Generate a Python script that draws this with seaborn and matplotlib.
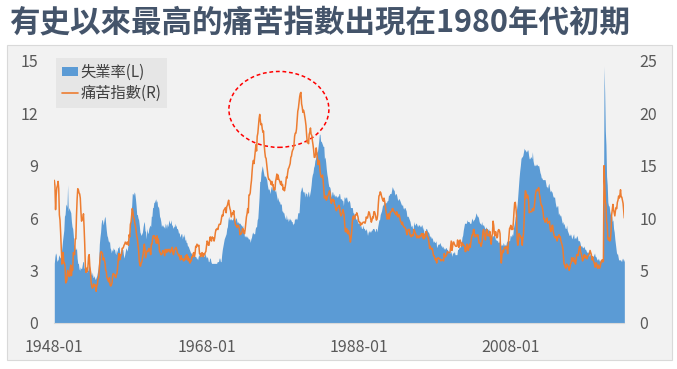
import pandas as pd
import seaborn as sns
import matplotlib.pyplot as plt
from matplotlib.patches import Ellipse, Rectangle, Patch
from matplotlib.lines import Line2D

# 美國失業率 (%)，1948-01 ~ 2022-12，每列一年
unemployment = [
    3.4, 3.8, 4.0, 3.9, 3.5, 3.6, 3.6, 3.9, 3.8, 3.7, 3.8, 4.0,
    4.3, 4.7, 5.0, 5.3, 6.1, 6.2, 6.7, 6.8, 6.6, 7.9, 6.4, 6.6,
    6.5, 6.4, 6.3, 5.8, 5.5, 5.4, 5.0, 4.5, 4.4, 4.2, 4.2, 4.3,
    3.7, 3.4, 3.4, 3.1, 3.0, 3.2, 3.1, 3.1, 3.3, 3.5, 3.5, 3.1,
    3.2, 3.1, 2.9, 2.9, 3.0, 3.0, 3.2, 3.4, 3.1, 3.0, 2.8, 2.7,
    2.9, 2.6, 2.6, 2.7, 2.5, 2.5, 2.6, 2.7, 2.9, 3.1, 3.5, 4.5,
    4.9, 5.2, 5.7, 5.9, 5.9, 5.6, 5.8, 6.0, 6.1, 5.7, 5.3, 5.0,
    4.9, 4.7, 4.6, 4.7, 4.3, 4.2, 4.0, 4.2, 4.1, 4.3, 4.2, 4.2,
    4.0, 3.9, 4.2, 4.0, 4.3, 4.3, 4.4, 4.1, 3.9, 3.9, 4.3, 4.2,
    4.2, 3.9, 3.7, 3.9, 4.1, 4.3, 4.2, 4.1, 4.4, 4.5, 5.1, 5.2,
    5.8, 6.4, 6.7, 7.4, 7.4, 7.3, 7.5, 7.4, 7.1, 6.7, 6.2, 6.2,
    6.0, 5.9, 5.6, 5.2, 5.1, 5.0, 5.1, 5.2, 5.5, 5.7, 5.8, 5.3,
    5.2, 4.8, 5.4, 5.2, 5.1, 5.4, 5.5, 5.6, 5.5, 6.1, 6.1, 6.6,
    6.6, 6.9, 6.9, 7.0, 7.1, 6.9, 7.0, 6.6, 6.7, 6.5, 6.1, 6.0,
    5.8, 5.5, 5.6, 5.6, 5.5, 5.5, 5.4, 5.7, 5.6, 5.4, 5.7, 5.5,
    5.7, 5.9, 5.7, 5.7, 5.9, 5.6, 5.6, 5.4, 5.5, 5.5, 5.7, 5.5,
    5.6, 5.4, 5.4, 5.3, 5.1, 5.2, 4.9, 5.0, 5.1, 5.1, 4.8, 5.0,
    4.9, 5.1, 4.7, 4.8, 4.6, 4.6, 4.4, 4.4, 4.3, 4.2, 4.1, 4.0,
    4.0, 3.8, 3.8, 3.8, 3.9, 3.8, 3.8, 3.8, 3.7, 3.7, 3.6, 3.8,
    3.9, 3.8, 3.8, 3.8, 3.8, 3.9, 3.8, 3.8, 3.8, 4.0, 3.9, 3.8,
    3.7, 3.8, 3.7, 3.5, 3.5, 3.7, 3.7, 3.5, 3.4, 3.4, 3.4, 3.4,
    3.4, 3.4, 3.4, 3.4, 3.4, 3.5, 3.5, 3.5, 3.7, 3.7, 3.5, 3.5,
    3.9, 4.2, 4.4, 4.6, 4.8, 4.9, 5.0, 5.1, 5.4, 5.5, 5.9, 6.1,
    5.9, 5.9, 6.0, 5.9, 5.9, 5.9, 6.0, 6.1, 6.0, 5.8, 6.0, 6.0,
    5.8, 5.7, 5.8, 5.7, 5.7, 5.7, 5.6, 5.6, 5.5, 5.6, 5.3, 5.2,
    4.9, 5.0, 4.9, 5.0, 4.9, 4.9, 4.8, 4.8, 4.8, 4.6, 4.8, 4.9,
    5.1, 5.2, 5.1, 5.1, 5.1, 5.4, 5.5, 5.5, 5.9, 6.0, 6.6, 7.2,
    8.1, 8.1, 8.6, 8.8, 9.0, 8.8, 8.6, 8.4, 8.4, 8.4, 8.3, 8.2,
    7.9, 7.7, 7.6, 7.7, 7.4, 7.6, 7.8, 7.8, 7.6, 7.7, 7.8, 7.8,
    7.5, 7.6, 7.4, 7.2, 7.0, 7.2, 6.9, 7.0, 6.8, 6.8, 6.8, 6.4,
    6.4, 6.3, 6.3, 6.1, 6.0, 5.9, 6.2, 5.9, 6.0, 5.8, 5.9, 6.0,
    5.9, 5.9, 5.8, 5.8, 5.6, 5.7, 5.7, 6.0, 5.9, 6.0, 5.9, 6.0,
    6.3, 6.3, 6.3, 6.9, 7.5, 7.6, 7.8, 7.7, 7.5, 7.5, 7.5, 7.2,
    7.5, 7.4, 7.4, 7.2, 7.5, 7.5, 7.2, 7.4, 7.6, 7.9, 8.3, 8.5,
    8.6, 8.9, 9.0, 9.3, 9.4, 9.6, 9.8, 9.8, 10.1, 10.4, 10.8, 10.8,
    10.4, 10.4, 10.3, 10.2, 10.1, 10.1, 9.4, 9.5, 9.2, 8.8, 8.5, 8.3,
    8.0, 7.8, 7.8, 7.7, 7.4, 7.2, 7.5, 7.5, 7.3, 7.4, 7.2, 7.3,
    7.3, 7.2, 7.2, 7.3, 7.2, 7.4, 7.4, 7.1, 7.1, 7.1, 7.0, 7.0,
    6.7, 7.2, 7.2, 7.1, 7.2, 7.2, 7.0, 6.9, 7.0, 7.0, 6.9, 6.6,
    6.6, 6.6, 6.6, 6.3, 6.3, 6.2, 6.1, 6.0, 5.9, 6.0, 5.8, 5.7,
    5.7, 5.7, 5.7, 5.4, 5.6, 5.4, 5.4, 5.6, 5.4, 5.4, 5.3, 5.3,
    5.4, 5.2, 5.0, 5.2, 5.2, 5.3, 5.2, 5.2, 5.3, 5.3, 5.4, 5.4,
    5.4, 5.3, 5.2, 5.4, 5.4, 5.2, 5.5, 5.7, 5.9, 5.9, 6.2, 6.3,
    6.4, 6.6, 6.8, 6.7, 6.9, 6.9, 6.8, 6.9, 6.9, 7.0, 7.0, 7.3,
    7.3, 7.4, 7.4, 7.4, 7.6, 7.8, 7.7, 7.6, 7.6, 7.3, 7.4, 7.4,
    7.3, 7.1, 7.0, 7.1, 7.1, 7.0, 6.9, 6.8, 6.7, 6.8, 6.6, 6.5,
    6.6, 6.6, 6.5, 6.4, 6.1, 6.1, 6.1, 6.0, 5.9, 5.8, 5.6, 5.5,
    5.6, 5.4, 5.4, 5.8, 5.6, 5.6, 5.7, 5.7, 5.6, 5.5, 5.6, 5.6,
    5.6, 5.5, 5.5, 5.6, 5.6, 5.3, 5.5, 5.1, 5.2, 5.2, 5.4, 5.4,
    5.3, 5.2, 5.2, 5.1, 4.9, 5.0, 4.9, 4.8, 4.9, 4.7, 4.6, 4.7,
    4.6, 4.6, 4.7, 4.3, 4.4, 4.5, 4.5, 4.5, 4.6, 4.5, 4.4, 4.4,
    4.3, 4.4, 4.2, 4.3, 4.2, 4.3, 4.3, 4.2, 4.2, 4.1, 4.1, 4.0,
    4.0, 4.1, 4.0, 3.8, 4.0, 4.0, 4.0, 4.1, 3.9, 3.9, 3.9, 3.9,
    4.2, 4.2, 4.3, 4.4, 4.3, 4.5, 4.6, 4.9, 5.0, 5.3, 5.5, 5.7,
    5.7, 5.7, 5.7, 5.9, 5.8, 5.8, 5.8, 5.7, 5.7, 5.7, 5.9, 6.0,
    5.8, 5.9, 5.9, 6.0, 6.1, 6.3, 6.2, 6.1, 6.1, 6.0, 5.8, 5.7,
    5.7, 5.6, 5.8, 5.6, 5.6, 5.6, 5.5, 5.4, 5.4, 5.5, 5.4, 5.4,
    5.3, 5.4, 5.2, 5.2, 5.1, 5.0, 5.0, 4.9, 5.0, 5.0, 5.0, 4.9,
    4.7, 4.8, 4.7, 4.7, 4.6, 4.6, 4.7, 4.7, 4.5, 4.4, 4.5, 4.4,
    4.6, 4.5, 4.4, 4.5, 4.4, 4.6, 4.7, 4.6, 4.7, 4.7, 4.7, 5.0,
    5.0, 4.9, 5.1, 5.0, 5.4, 5.6, 5.8, 6.1, 6.1, 6.5, 6.8, 7.3,
    7.8, 8.3, 8.7, 9.0, 9.4, 9.5, 9.5, 9.6, 9.8, 10.0, 9.9, 9.9,
    9.8, 9.8, 9.9, 9.9, 9.6, 9.4, 9.4, 9.5, 9.5, 9.4, 9.8, 9.3,
    9.1, 9.0, 9.0, 9.1, 9.0, 9.1, 9.0, 9.0, 9.0, 8.8, 8.6, 8.5,
    8.3, 8.3, 8.2, 8.2, 8.2, 8.2, 8.2, 8.0, 7.8, 7.8, 7.7, 7.9,
    8.0, 7.7, 7.5, 7.6, 7.5, 7.5, 7.3, 7.2, 7.2, 7.2, 6.9, 6.7,
    6.6, 6.7, 6.7, 6.2, 6.3, 6.1, 6.2, 6.1, 5.9, 5.7, 5.8, 5.6,
    5.7, 5.5, 5.4, 5.4, 5.6, 5.3, 5.2, 5.1, 5.0, 5.0, 5.1, 5.0,
    4.8, 4.9, 5.0, 5.1, 4.8, 4.9, 4.8, 4.9, 5.0, 4.9, 4.7, 4.7,
    4.7, 4.6, 4.4, 4.4, 4.4, 4.3, 4.3, 4.4, 4.3, 4.2, 4.2, 4.1,
    4.0, 4.1, 4.0, 4.0, 3.8, 4.0, 3.8, 3.8, 3.7, 3.8, 3.8, 3.9,
    4.0, 3.8, 3.8, 3.7, 3.6, 3.6, 3.7, 3.6, 3.5, 3.6, 3.6, 3.6,
    3.5, 3.5, 4.4, 14.7, 13.2, 11.0, 10.2, 8.4, 7.9, 6.9, 6.7, 6.7,
    6.4, 6.2, 6.1, 6.1, 5.8, 5.9, 5.4, 5.2, 4.8, 4.5, 4.2, 3.9,
    4.0, 3.8, 3.6, 3.6, 3.6, 3.6, 3.5, 3.7, 3.5, 3.7, 3.6, 3.5,
]

# CPI 年增率 (%)，同期間；痛苦指數 = 失業率 + CPI 年增率
cpi_yoy = [
    10.2, 9.3, 6.8, 8.3, 9.4, 9.5, 9.9, 8.9, 6.5, 6.1, 4.8, 3.0,
    1.3, 1.3, 1.7, 0.4, -0.4, -0.8, -2.9, -2.9, -2.5, -2.9, -1.7, -2.1,
    -2.1, -1.3, -0.8, -1.3, -0.4, -0.4, 1.7, 2.1, 2.1, 3.8, 3.8, 5.9,
    8.1, 9.4, 9.3, 9.3, 9.3, 8.7, 7.5, 6.6, 6.6, 6.4, 6.9, 6.0,
    4.3, 2.3, 1.9, 2.3, 1.9, 2.3, 3.1, 3.1, 2.3, 1.9, 1.1, 0.8,
    0.4, 0.8, 1.1, 0.8, 1.1, 1.1, 0.4, 0.8, 0.8, 1.1, 0.8, 0.7,
    1.1, 1.5, 1.1, 0.8, 0.7, 0.4, 0.4, 0.0, -0.4, -0.7, -0.4, -0.7,
    -0.7, -0.7, -0.7, -0.4, -0.7, -0.7, -0.4, -0.4, 0.4, 0.4, 0.4, 0.4,
    0.4, 0.4, 0.4, 0.7, 1.1, 1.8, 2.2, 1.9, 2.2, 2.6, 2.2, 2.9,
    2.9, 3.3, 3.7, 3.6, 3.6, 3.3, 3.3, 3.6, 3.3, 2.9, 3.3, 3.0,
    3.6, 3.2, 3.6, 3.5, 3.2, 2.8, 2.4, 2.1, 2.1, 2.1, 2.1, 1.8,
    1.4, 1.0, 0.3, 0.3, 0.3, 0.7, 0.7, 1.0, 1.0, 1.4, 1.7, 1.7,
    1.0, 1.7, 1.4, 1.7, 1.7, 1.7, 1.4, 1.4, 1.0, 1.4, 1.4, 1.4,
    1.7, 1.4, 1.4, 1.0, 1.0, 0.7, 1.3, 1.0, 1.3, 1.0, 0.7, 0.7,
    0.7, 1.0, 1.0, 1.3, 1.3, 1.3, 1.0, 1.3, 1.3, 1.3, 1.3, 1.3,
    1.3, 1.0, 1.3, 1.0, 1.0, 1.3, 1.6, 1.3, 1.0, 1.3, 1.3, 1.6,
    1.6, 1.6, 1.3, 1.3, 1.3, 1.3, 1.3, 1.0, 1.3, 1.0, 1.3, 1.0,
    1.0, 1.0, 1.3, 1.6, 1.6, 1.9, 1.6, 1.9, 1.6, 1.9, 1.6, 1.9,
    1.9, 2.5, 2.5, 2.8, 2.8, 2.5, 2.8, 3.5, 3.5, 3.8, 3.8, 3.5,
    3.5, 2.8, 2.8, 2.5, 2.8, 2.8, 2.8, 2.5, 2.8, 2.5, 2.8, 3.0,
    3.6, 4.0, 4.0, 3.9, 3.9, 4.2, 4.5, 4.4, 4.4, 4.8, 4.7, 4.7,
    4.4, 4.7, 5.2, 5.5, 5.5, 5.5, 5.4, 5.7, 5.7, 5.7, 5.9, 6.2,
    6.2, 6.1, 5.8, 6.1, 6.0, 6.0, 6.0, 5.4, 5.7, 5.7, 5.6, 5.6,
    5.3, 5.0, 4.7, 4.2, 4.4, 4.6, 4.4, 4.6, 4.1, 3.8, 3.3, 3.3,
    3.3, 3.5, 3.5, 3.5, 3.2, 2.7, 2.9, 2.9, 3.2, 3.4, 3.6, 3.4,
    3.6, 3.9, 4.6, 5.1, 5.5, 6.0, 5.7, 7.4, 7.4, 7.8, 8.3, 8.7,
    9.4, 10.0, 10.4, 10.1, 10.7, 10.9, 11.5, 10.9, 11.9, 12.1, 12.2, 12.3,
    11.8, 11.2, 10.3, 10.2, 9.5, 9.4, 9.7, 8.6, 7.9, 7.4, 7.4, 6.9,
    6.7, 6.3, 6.1, 6.0, 6.2, 5.9, 5.4, 5.7, 5.5, 5.5, 4.9, 4.9,
    5.2, 5.9, 6.4, 7.0, 6.7, 6.9, 6.8, 6.6, 6.6, 6.4, 6.7, 6.7,
    6.8, 6.4, 6.6, 6.5, 6.9, 7.4, 7.7, 7.9, 8.3, 8.9, 8.9, 9.0,
    9.3, 9.9, 10.1, 10.5, 10.9, 10.9, 11.3, 11.8, 12.2, 12.1, 12.6, 13.3,
    13.9, 14.2, 14.8, 14.7, 14.4, 14.4, 13.1, 12.9, 12.6, 12.8, 12.6, 12.5,
    11.8, 11.4, 10.5, 10.0, 9.8, 9.6, 10.8, 10.8, 11.0, 10.1, 9.6, 8.9,
    8.4, 7.6, 6.8, 6.5, 6.7, 7.1, 6.4, 5.9, 5.0, 5.1, 4.6, 3.8,
    3.7, 3.5, 3.6, 3.9, 3.5, 2.6, 2.5, 2.6, 2.9, 2.9, 3.3, 3.8,
    4.2, 4.6, 4.8, 4.6, 4.2, 4.2, 4.2, 4.3, 4.3, 4.3, 4.1, 3.9,
    3.5, 3.5, 3.7, 3.7, 3.8, 3.8, 3.6, 3.3, 3.1, 3.2, 3.5, 3.8,
    3.9, 3.1, 2.2, 1.6, 1.5, 1.8, 1.6, 1.6, 1.8, 1.5, 1.3, 1.1,
    1.5, 2.1, 3.0, 3.8, 3.9, 3.7, 3.9, 4.3, 4.4, 4.5, 4.5, 4.4,
    4.0, 3.9, 3.9, 3.9, 3.9, 4.0, 4.1, 4.0, 4.2, 4.2, 4.2, 4.4,
    4.7, 4.8, 5.0, 5.1, 5.4, 5.2, 5.0, 4.7, 4.3, 4.5, 4.7, 4.6,
    5.2, 5.3, 5.2, 4.7, 4.4, 4.7, 4.8, 5.6, 6.2, 6.3, 6.3, 6.1,
    5.7, 5.3, 4.9, 4.9, 5.0, 4.7, 4.4, 3.8, 3.4, 2.9, 3.0, 3.1,
    2.6, 2.8, 3.2, 3.2, 3.0, 3.1, 3.2, 3.1, 3.0, 3.2, 3.0, 2.9,
    3.3, 3.2, 3.1, 3.2, 3.2, 3.0, 2.8, 2.8, 2.7, 2.8, 2.7, 2.7,
    2.5, 2.5, 2.5, 2.4, 2.3, 2.5, 2.8, 2.9, 3.0, 2.6, 2.7, 2.7,
    2.8, 2.9, 2.9, 3.1, 3.2, 3.0, 2.8, 2.6, 2.5, 2.8, 2.6, 2.5,
    2.7, 2.7, 2.8, 2.9, 2.9, 2.8, 3.0, 2.9, 3.0, 3.0, 3.3, 3.3,
    3.0, 3.0, 2.8, 2.5, 2.2, 2.3, 2.2, 2.2, 2.2, 2.1, 1.8, 1.7,
    1.6, 1.4, 1.4, 1.4, 1.7, 1.7, 1.7, 1.6, 1.5, 1.5, 1.5, 1.6,
    1.7, 1.6, 1.7, 2.3, 2.1, 2.0, 2.1, 2.3, 2.6, 2.6, 2.6, 2.7,
    2.7, 3.2, 3.8, 3.1, 3.2, 3.7, 3.7, 3.4, 3.5, 3.4, 3.4, 3.4,
    3.7, 3.5, 2.9, 3.3, 3.6, 3.2, 2.7, 2.7, 2.6, 2.1, 1.9, 1.6,
    1.1, 1.1, 1.5, 1.6, 1.2, 1.1, 1.5, 1.8, 1.5, 2.0, 2.2, 2.4,
    2.6, 3.0, 3.0, 2.2, 2.1, 2.1, 2.1, 2.2, 2.3, 2.0, 1.8, 1.9,
    1.9, 1.7, 1.7, 2.3, 3.1, 3.3, 3.0, 2.7, 2.5, 3.2, 3.5, 3.3,
    3.0, 3.0, 3.1, 3.5, 2.8, 2.5, 3.2, 3.6, 4.7, 4.3, 3.5, 3.4,
    4.0, 3.6, 3.4, 3.5, 4.2, 4.3, 4.1, 3.8, 2.1, 1.3, 2.0, 2.5,
    2.1, 2.4, 2.8, 2.6, 2.7, 2.7, 2.4, 2.0, 2.8, 3.5, 4.3, 4.1,
    4.3, 4.0, 4.0, 3.9, 4.2, 5.0, 5.6, 5.4, 4.9, 3.7, 1.1, 0.1,
    0.0, 0.2, -0.4, -0.7, -1.3, -1.4, -2.1, -1.5, -1.3, -0.2, 1.8, 2.7,
    2.6, 2.1, 2.3, 2.2, 2.0, 1.1, 1.2, 1.1, 1.1, 1.2, 1.1, 1.5,
    1.6, 2.1, 2.7, 3.2, 3.6, 3.6, 3.6, 3.8, 3.9, 3.5, 3.4, 3.0,
    2.9, 2.9, 2.7, 2.3, 1.7, 1.7, 1.4, 1.7, 2.0, 2.2, 1.8, 1.7,
    1.6, 2.0, 1.5, 1.1, 1.4, 1.8, 2.0, 1.5, 1.2, 1.0, 1.2, 1.5,
    1.6, 1.1, 1.5, 2.0, 2.1, 2.1, 2.0, 1.7, 1.7, 1.7, 1.3, 0.8,
    -0.1, 0.0, -0.1, -0.2, 0.0, 0.1, 0.2, 0.2, 0.0, 0.2, 0.5, 0.7,
    1.4, 1.0, 0.9, 1.1, 1.0, 1.0, 0.8, 1.1, 1.5, 1.6, 1.7, 2.1,
    2.5, 2.7, 2.4, 2.2, 1.9, 1.6, 1.7, 1.9, 2.2, 2.0, 2.2, 2.1,
    2.1, 2.2, 2.4, 2.5, 2.8, 2.9, 2.9, 2.7, 2.3, 2.5, 2.2, 1.9,
    1.6, 1.5, 1.9, 2.0, 1.8, 1.6, 1.8, 1.7, 1.7, 1.8, 2.1, 2.3,
    2.5, 2.3, 1.5, 0.3, 0.1, 0.6, 1.0, 1.3, 1.4, 1.2, 1.2, 1.4,
    1.4, 1.7, 2.6, 4.2, 5.0, 5.4, 5.4, 5.3, 5.4, 6.2, 6.8, 7.0,
    7.5, 7.9, 8.5, 8.3, 8.6, 9.1, 8.5, 8.3, 8.2, 7.7, 7.1, 6.5,
]

start_month = '1948-01'
tick_labels = ['1948-01', '1968-01', '1988-01', '2008-01']
legend_labels = ['失業率(L)', '痛苦指數(R)']
title = '有史以來最高的痛苦指數出現在1980年代初期'

months = pd.period_range(start_month, periods=len(unemployment), freq='M').strftime('%Y-%m')
df = pd.DataFrame({'month': months, 'unemp': unemployment, 'cpi': cpi_yoy})
df['misery'] = df['unemp'] + df['cpi']
df['idx'] = range(len(df))

blue = '#5b9bd5'
orange = '#ed7d31'

sns.set_style('white')
plt.rcParams['font.family'] = ['Noto Sans CJK TC', 'DejaVu Sans']

fig = plt.figure(figsize=(6.77, 3.69), dpi=100)
fig.patch.set_facecolor('white')
# 灰色底板
fig.patches.append(Rectangle((0.0103, 0.0244), 0.9823, 0.8536, transform=fig.transFigure,
                             facecolor='#f2f2f2', edgecolor='#d9d9d9', lw=0.8, zorder=-5))
fig.text(0.013, 0.938, title, fontsize=22, fontweight='heavy', color='#44546a', va='center')

ax = fig.add_axes([0.0802, 0.1255, 0.842, 0.7092])
ax.set_facecolor('none')
ax.fill_between(df['idx'], df['unemp'], color=blue, lw=0)

ax2 = ax.twinx()
sns.lineplot(x='idx', y='misery', data=df, ax=ax2, color=orange, lw=1.1)

ax.set_xlim(0, len(df) - 1)
ax.set_ylim(0, 15)
ax.set_yticks(range(0, 16, 3))
ax2.set_ylim(0, 25)
ax2.set_yticks(range(0, 26, 5))
ticks = df.index[df['month'].isin(tick_labels)]
ax.set_xticks(ticks)
ax.set_xticklabels(df.loc[ticks, 'month'])
ax.set_xlabel('')
ax.set_ylabel('')
ax2.set_xlabel('')
ax2.set_ylabel('')

for a in (ax, ax2):
    for s in a.spines.values():
        s.set_visible(False)
ax.spines['bottom'].set_visible(True)
ax.spines['bottom'].set_color('#d9d9d9')
ax.spines['bottom'].set_linewidth(0.8)

ax.tick_params(axis='x', length=4, width=0.8, color='#d9d9d9', labelcolor='#595959',
               labelsize=11.5, pad=7.5)
ax.tick_params(axis='y', length=0, labelcolor='#595959', labelsize=11.5, pad=11.5)
ax2.tick_params(axis='y', length=0, labelcolor='#595959', labelsize=11.5, pad=11)

handles = [Patch(facecolor=blue, edgecolor='none'), Line2D([], [], color=orange, lw=1.2)]
leg = ax2.legend(handles, legend_labels, loc='upper left', bbox_to_anchor=(0.003, 1.0126),
                 borderaxespad=0, frameon=True, facecolor='#e6e6e6', edgecolor='none',
                 framealpha=1, fancybox=False, fontsize=11, handlelength=1.05,
                 handleheight=0.5, handletextpad=0.15, labelspacing=0.25, borderpad=0.4,
                 labelcolor='#404040')

ax2.add_patch(Ellipse((0.394, 0.815), 0.1754, 0.29, transform=ax2.transAxes, fill=False,
                      edgecolor='red', lw=1.1, ls=(0, (2.5, 1.8))))

fig.savefig('out.png', dpi=100)
